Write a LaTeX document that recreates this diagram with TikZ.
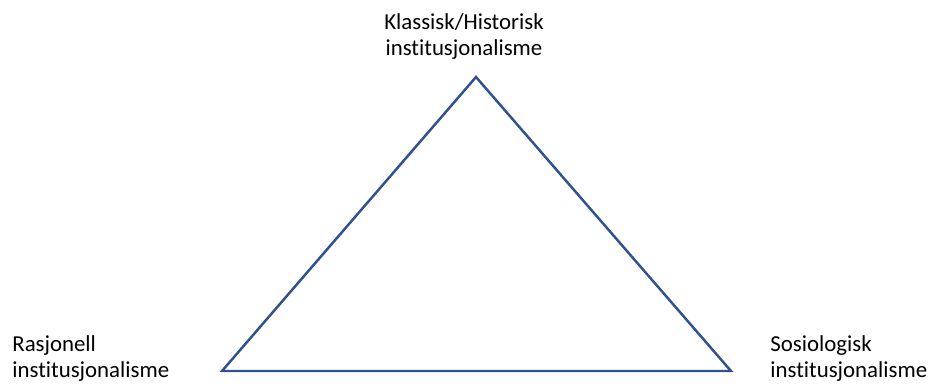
\documentclass[tikz,border=0pt]{standalone}
\usepackage{fontspec}
\setmainfont{Carlito}[Ligatures=NoCommon]
\usepackage{xcolor}
\definecolor{triblue}{RGB}{47,82,143}

\tikzset{
  hjorne/.style={font=\fontsize{13pt}{14.8pt}\selectfont, inner sep=0pt, align=left},
}

\begin{document}
\begin{tikzpicture}[x=0.02cm,y=-0.02cm]
\useasboundingbox (0,0) rectangle (929,383);
\coordinate (topp) at (476,77);
\coordinate (venstre) at (222,371);
\coordinate (hoyre) at (731,371);
\draw[line width=1.4pt, draw=triblue, line join=miter] (topp) -- (venstre) -- (hoyre) -- cycle;

\node[hjorne, align=center, anchor=north] (klassisk) at (464,13) {Klassisk/Historisk\\institusjonalisme};
\node[hjorne, anchor=north west] (rasjonell) at (12,335) {Rasjonell\\institusjonalisme};
\node[hjorne, anchor=north west] (sosiologisk) at (770,335) {Sosiologisk\\institusjonalisme};
\end{tikzpicture}
\end{document}
